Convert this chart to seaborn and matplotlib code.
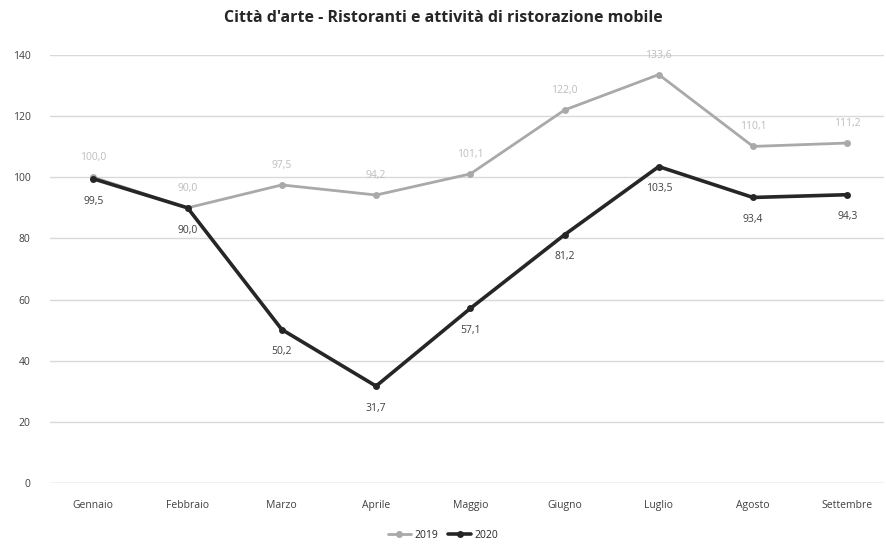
import matplotlib
matplotlib.use("Agg")
import matplotlib.pyplot as plt
import pandas as pd
import seaborn as sns

# ── Data ─────────────────────────────────────────────────────────────────────
MESI = ["Gennaio", "Febbraio", "Marzo", "Aprile", "Maggio",
        "Giugno", "Luglio", "Agosto", "Settembre"]
VAL_2019 = [100.0, 90.0, 97.5, 94.2, 101.1, 122.0, 133.6, 110.1, 111.2]
VAL_2020 = [99.5, 90.0, 50.2, 31.7, 57.1, 81.2, 103.5, 93.4, 94.3]
ANNI = ["2019", "2020"]
Y_TICKS = [0, 20, 40, 60, 80, 100, 120, 140]

TITLE = "Città d'arte - Ristoranti e attività di ristorazione mobile"
COLORS = {"2019": "#A9A9A9", "2020": "#262626"}
LABEL_COLORS = {"2019": "#BDBDBD", "2020": "#404040"}

df = pd.concat([
    pd.DataFrame({"mese": MESI, "valore": VAL_2019, "anno": "2019"}),
    pd.DataFrame({"mese": MESI, "valore": VAL_2020, "anno": "2020"}),
])
df["x"] = df["mese"].map({m: i for i, m in enumerate(MESI)})

sns.set_style("white")
plt.rcParams["font.family"] = ["Open Sans", "DejaVu Sans"]

fig = plt.figure(figsize=(8.86, 5.45), dpi=100)
ax = fig.add_axes([50 / 886, 1 - 483 / 545, 834 / 886, 428 / 545])

sns.lineplot(
    data=df, x="x", y="valore", hue="anno", palette=COLORS,
    hue_order=ANNI, marker="o", markersize=5, markeredgewidth=0,
    ax=ax, legend=False,
)
for line, lw in zip(ax.get_lines(), [2.0, 2.6]):
    line.set_linewidth(lw)

# data labels: 2019 above, 2020 below
for anno, vals, dy in [("2019", VAL_2019, 14), ("2020", VAL_2020, -16)]:
    for i, v in enumerate(vals):
        ax.annotate(f"{v:.1f}".replace(".", ","), (i, v),
                    xytext=(0, dy), textcoords="offset points",
                    ha="center", va="center", fontsize=7.5,
                    color=LABEL_COLORS[anno])

ax.set_xlim(-0.46, 8.39)
ax.set_ylim(0, 140)
ax.set_yticks(Y_TICKS)
ax.set_yticklabels([str(t) for t in Y_TICKS], fontsize=7.5, color="#404040")
ax.set_xticks(range(len(MESI)))
ax.set_xticklabels(MESI, fontsize=7.5, color="#404040")
ax.tick_params(axis="y", length=0, pad=14)
ax.tick_params(axis="x", length=0, pad=12)
ax.grid(axis="y", color="#D9D9D9", linewidth=1)
ax.set_axisbelow(True)
for s in ax.spines.values():
    s.set_visible(False)
ax.axhline(0, color="#D9D9D9", linewidth=1)
ax.set_xlabel("")
ax.set_ylabel("")

fig.text(0.5, 1 - 18 / 545, TITLE, ha="center", va="center",
         fontsize=11.5, fontweight="bold", color="#262626")

# legend
handles = [plt.Line2D([], [], color=COLORS[a], linewidth=2 if a == "2019" else 2.6,
                      marker="o", markersize=4) for a in ANNI]
fig.legend(handles, ANNI, loc="center", bbox_to_anchor=(0.5, 1 - 535 / 545),
           ncol=2, frameon=False, fontsize=7.5, handlelength=2.2,
           columnspacing=1.0, handletextpad=0.3)

fig.savefig("out.png", dpi=100)
